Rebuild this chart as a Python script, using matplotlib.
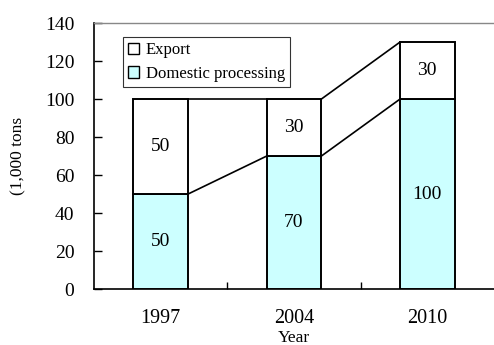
import matplotlib
matplotlib.use("Agg")
import matplotlib.pyplot as plt
from matplotlib.patches import Patch

plt.rcParams['font.family'] = ['Liberation Serif', 'DejaVu Serif']

years = ["1997", "2004", "2010"]
domestic = [50, 70, 100]
export = [50, 30, 30]
yticks = [0, 20, 40, 60, 80, 100, 120, 140]

cyan = "#CCFFFF"
bar_w = 0.41

fig = plt.figure(figsize=(4.94, 3.45), dpi=100)
ax = fig.add_axes([0.19, 0.162, 0.81, 0.771])

x = list(range(len(years)))
ax.bar(x, domestic, width=bar_w, color=cyan, edgecolor="black", linewidth=1.4, zorder=3)
ax.bar(x, export, width=bar_w, bottom=domestic, color="white", edgecolor="black",
       linewidth=1.4, zorder=3)

# connector lines between adjacent stacks
totals = [d + e for d, e in zip(domestic, export)]
for i in range(len(years) - 1):
    x0 = x[i] + bar_w / 2
    x1 = x[i + 1] - bar_w / 2
    ax.plot([x0, x1], [domestic[i], domestic[i + 1]], color="black", lw=1.2, zorder=2)
    ax.plot([x0, x1], [totals[i], totals[i + 1]], color="black", lw=1.2, zorder=2)

# value labels
for i in x:
    ax.text(x[i], domestic[i] / 2, str(domestic[i]), ha="center", va="center", fontsize=14, zorder=4)
    ax.text(x[i], domestic[i] + export[i] / 2, str(export[i]), ha="center", va="center",
            fontsize=14, zorder=4)

ax.set_xlim(-0.5, 2.5)
ax.set_ylim(0, 140)
ax.set_yticks(yticks)
ax.set_yticklabels([str(v) for v in yticks], fontsize=14)
ax.tick_params(axis="y", direction="in", length=6, width=1, pad=14)

# category ticks sit on the boundaries, labels at the centres
ax.set_xticks([0.5, 1.5])
ax.set_xticklabels([])
ax.set_xticks(x, minor=True)
ax.set_xticklabels(years, minor=True, fontsize=14.5)
ax.tick_params(axis="x", which="major", direction="in", length=5, width=1)
ax.tick_params(axis="x", which="minor", length=0, pad=14)

ax.spines["right"].set_visible(False)
ax.spines["top"].set_color("#888888")
ax.spines["top"].set_linewidth(1.0)
ax.spines["left"].set_linewidth(1.2)
ax.spines["bottom"].set_linewidth(1.2)

ax.set_xlabel("Year", fontsize=12.5, labelpad=2)
ax.set_ylabel("(1,000 tons", fontsize=12.5, labelpad=13)

handles = [Patch(facecolor="white", edgecolor="black", lw=1.0),
           Patch(facecolor=cyan, edgecolor="black", lw=1.0)]
leg = ax.legend(handles, ["Export", "Domestic processing"], loc="upper left",
                bbox_to_anchor=(0.072, 0.947), fontsize=12, frameon=True, fancybox=False,
                edgecolor="black", handlelength=0.7, handleheight=0.7, handletextpad=0.4,
                borderpad=0.3, labelspacing=0.45, borderaxespad=0)
leg.get_frame().set_linewidth(0.8)

fig.savefig("out.png", dpi=100)
